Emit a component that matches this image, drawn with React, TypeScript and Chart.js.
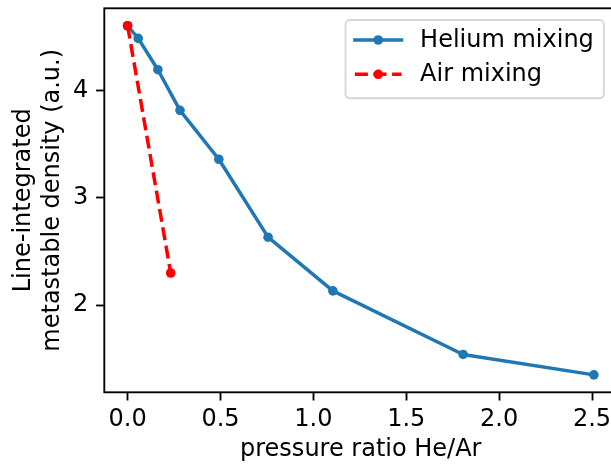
import React, { useEffect, useRef } from "react";
import { Chart, registerables } from "chart.js";

Chart.register(...registerables);

// ---- data ----
const heliumX = [0, 0.057, 0.163, 0.282, 0.491, 0.756, 1.105, 1.806, 2.51];
const heliumY = [4.606, 4.488, 4.196, 3.817, 3.361, 2.634, 2.133, 1.54, 1.35];
const airX = [0, 0.232];
const airY = [4.606, 2.3];
const xTicks = [0, 0.5, 1.0, 1.5, 2.0, 2.5];
const yTicks = [2, 3, 4];
const xLabel = "pressure ratio He/Ar";
const yLabel = ["Line-integrated", "metastable density (a.u.)"];
const heliumLabel = "Helium mixing";
const airLabel = "Air mixing";

const BLUE = "#1f77b4";
const RED = "#ff0000";
const FS = 24;
const FONT = "DejaVu Sans";
const LW = 3.5;
const MR = 4.8;

function marginRange(vals: number[]) {
  const lo = Math.min(...vals);
  const hi = Math.max(...vals);
  const m = (hi - lo) * 0.05;
  return [lo - m, hi + m];
}

const [xMin, xMax] = marginRange([...heliumX, ...airX]);
const [yMin, yMax] = marginRange([...heliumY, ...airY]);

const frameAndLegend = {
  id: "frameAndLegend",
  afterDatasetsDraw(chart: any) {
    const { ctx, chartArea } = chart;
    ctx.save();
    ctx.strokeStyle = "#000";
    ctx.lineWidth = 1.86;
    ctx.strokeRect(chartArea.left, chartArea.top, chartArea.right - chartArea.left, chartArea.bottom - chartArea.top);
    ctx.restore();
  },
  afterDraw(chart: any) {
    const { ctx, chartArea } = chart;
    ctx.save();
    const right = chartArea.right - 13.3;
    const top = chartArea.top + 11.7;
    const w = 258.4;
    const h = 78.3;
    const left = right - w;
    const r = 4.5;
    ctx.beginPath();
    ctx.moveTo(left + r, top);
    ctx.lineTo(right - r, top);
    ctx.arcTo(right, top, right, top + r, r);
    ctx.lineTo(right, top + h - r);
    ctx.arcTo(right, top + h, right - r, top + h, r);
    ctx.lineTo(left + r, top + h);
    ctx.arcTo(left, top + h, left, top + h - r, r);
    ctx.lineTo(left, top + r);
    ctx.arcTo(left, top, left + r, top, r);
    ctx.closePath();
    ctx.fillStyle = "rgba(255,255,255,0.8)";
    ctx.fill();
    ctx.strokeStyle = "#d6d6d6";
    ctx.lineWidth = 1.86;
    ctx.stroke();

    const items = [
      { label: heliumLabel, color: BLUE, dash: [] as number[], cap: "square", y: top + 20 },
      { label: airLabel, color: RED, dash: [13, 5.6], cap: "butt", y: top + 54.3 },
    ];
    const hStart = left + 9.4;
    const hLen = 46.6;
    for (const it of items) {
      ctx.beginPath();
      ctx.setLineDash(it.dash);
      ctx.lineCap = it.cap as CanvasLineCap;
      ctx.strokeStyle = it.color;
      ctx.lineWidth = LW;
      ctx.moveTo(hStart, it.y);
      ctx.lineTo(hStart + hLen, it.y);
      ctx.stroke();
      ctx.setLineDash([]);
      ctx.beginPath();
      ctx.fillStyle = it.color;
      ctx.arc(hStart + hLen / 2, it.y, MR, 0, Math.PI * 2);
      ctx.fill();
      ctx.fillStyle = "#000";
      ctx.font = `${FS}px "${FONT}"`;
      ctx.textAlign = "left";
      ctx.textBaseline = "alphabetic";
      ctx.fillText(it.label, hStart + hLen + 18.6, it.y + 6.5);
    }
    ctx.restore();
  },
};

export default function App() {
  const ref = useRef<HTMLCanvasElement>(null);
  useEffect(() => {
    if (!ref.current) return;
    const font = { family: FONT, size: FS };
    const chart = new Chart(ref.current, {
      type: "scatter",
      data: {
        datasets: [
          {
            label: airLabel,
            data: airX.map((x, i) => ({ x, y: airY[i] })),
            showLine: true,
            borderColor: RED,
            backgroundColor: RED,
            borderWidth: LW,
            borderDash: [13, 5.6],
            borderJoinStyle: "round",
            pointRadius: MR,
            pointBorderWidth: 0,
            pointBackgroundColor: RED,
            order: 0,
          },
          {
            label: heliumLabel,
            data: heliumX.map((x, i) => ({ x, y: heliumY[i] })),
            showLine: true,
            borderColor: BLUE,
            backgroundColor: BLUE,
            borderWidth: LW,
            borderJoinStyle: "round",
            borderCapStyle: "square",
            pointRadius: MR,
            pointBorderWidth: 0,
            pointBackgroundColor: BLUE,
            order: 1,
          },
        ],
      },
      options: {
        animation: false,
        responsive: false,
        devicePixelRatio: 1,
        events: [],
        layout: { padding: { top: 8.3, right: 3, left: 0, bottom: 0 } },
        plugins: { legend: { display: false }, tooltip: { enabled: false } },
        scales: {
          x: {
            type: "linear",
            min: xMin,
            max: xMax,
            afterFit: (s: any) => { s.height = 73.7; s.paddingLeft = 0; s.paddingRight = 0; },
            afterBuildTicks: (s: any) => { s.ticks = xTicks.map((v) => ({ value: v })); },
            ticks: { color: "#000", font, padding: 4.6, maxRotation: 0, autoSkip: false, callback: (v: any) => Number(v).toFixed(1) },
            grid: { drawOnChartArea: false, drawTicks: true, tickLength: 8.2, tickColor: "#000", tickWidth: 1.86, color: "#000" },
            border: { display: false },
            title: { display: true, text: xLabel, color: "#000", font, padding: { top: 0, bottom: 1.6 } },
          },
          y: {
            type: "linear",
            min: yMin,
            max: yMax,
            afterFit: (s: any) => { s.width = 104.3; s.paddingTop = 0; s.paddingBottom = 0; },
            afterBuildTicks: (s: any) => { s.ticks = yTicks.map((v) => ({ value: v })); },
            ticks: { color: "#000", font, padding: 7.8, autoSkip: false, callback: (v: any) => String(v) },
            grid: { drawOnChartArea: false, drawTicks: true, tickLength: 8.2, tickColor: "#000", tickWidth: 1.86, color: "#000" },
            border: { display: false },
            title: { display: true, text: yLabel, color: "#000", font, padding: { top: 9.3, bottom: 0 } },
          },
        },
      },
      plugins: [frameAndLegend],
    } as any);
    return () => chart.destroy();
  }, []);
  return (
    <div style={{ position: "fixed", left: 0, top: 0, width: 611, height: 466, overflow: "hidden", background: "#fff" }}>
      <canvas ref={ref} width={622} height={466} style={{ display: "block", width: 622, height: 466 }} />
    </div>
  );
}
